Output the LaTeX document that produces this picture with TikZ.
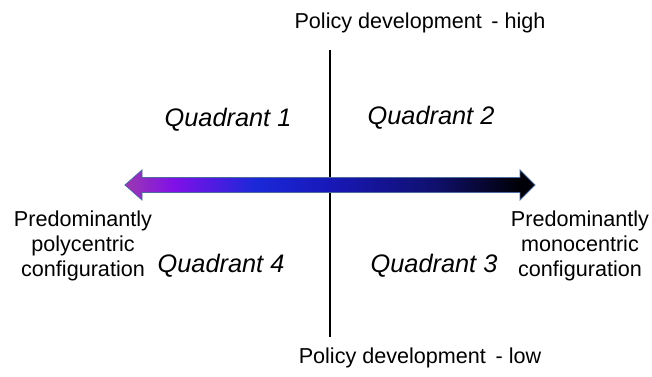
\documentclass[tikz,border=0pt]{standalone}
\usepackage{fontspec}
\setmainfont{Liberation Sans}
\usetikzlibrary{calc}
\definecolor{cA}{HTML}{9A3AB0}
\definecolor{cB}{HTML}{8010E8}
\definecolor{cC}{HTML}{1A28D8}
\definecolor{cC2}{HTML}{1818B8}
\definecolor{cD}{HTML}{101070}
\definecolor{cE}{HTML}{000008}
\definecolor{edge}{HTML}{4A6A9A}
\pgfdeclarehorizontalshading{arrowshade}{100bp}{color(0bp)=(cA); color(25bp)=(cA); color(31bp)=(cB); color(41bp)=(cC); color(50bp)=(cC2); color(62.5bp)=(cD); color(73bp)=(cE); color(100bp)=(cE)}
\tikzset{
  lbl/.style={font=\fontsize{16.2}{19}\selectfont, align=center, inner sep=0pt},
  quad/.style={font=\fontsize{19}{22}\selectfont\itshape, inner sep=0pt},
  axisline/.style={line width=1.3pt, black},
}
\begin{document}
\begin{tikzpicture}[x=0.75pt,y=-0.75pt]
\useasboundingbox (0,0) rectangle (652,377);
% vertical axis
\coordinate (top) at (330,50);
\coordinate (bot) at (330,337);
\draw[axisline] (top) -- (bot);
% double arrow
\coordinate (L) at (125,185);
\coordinate (R) at (535,185);
\path[shading=arrowshade, draw=edge, line width=0.6pt]
  (L) -- ++(17,-15) -- ++(0,7.5) -- ($(R)+(-15,-7.5)$) -- ++(0,-7.5) -- (R)
  -- ++(-15,15) -- ++(0,-7.5) -- ($(L)+(17,7.5)$) -- ++(0,7.5) -- cycle;
% labels
\node[lbl] (hi) at (420,23) {Policy development \,- high};
\node[lbl] (lo) at (420,358) {Policy development \,- low};
\node[lbl] (poly) at (83,246) {Predominantly\\polycentric\\configuration};
\node[lbl] (mono) at (580,246) {Predominantly\\monocentric\\configuration};
\node[quad] (q1) at (228,120) {Quadrant 1};
\node[quad] (q2) at (431,118) {Quadrant 2};
\node[quad] (q4) at (221,266) {Quadrant 4};
\node[quad] (q3) at (434,266) {Quadrant 3};
\end{tikzpicture}
\end{document}
